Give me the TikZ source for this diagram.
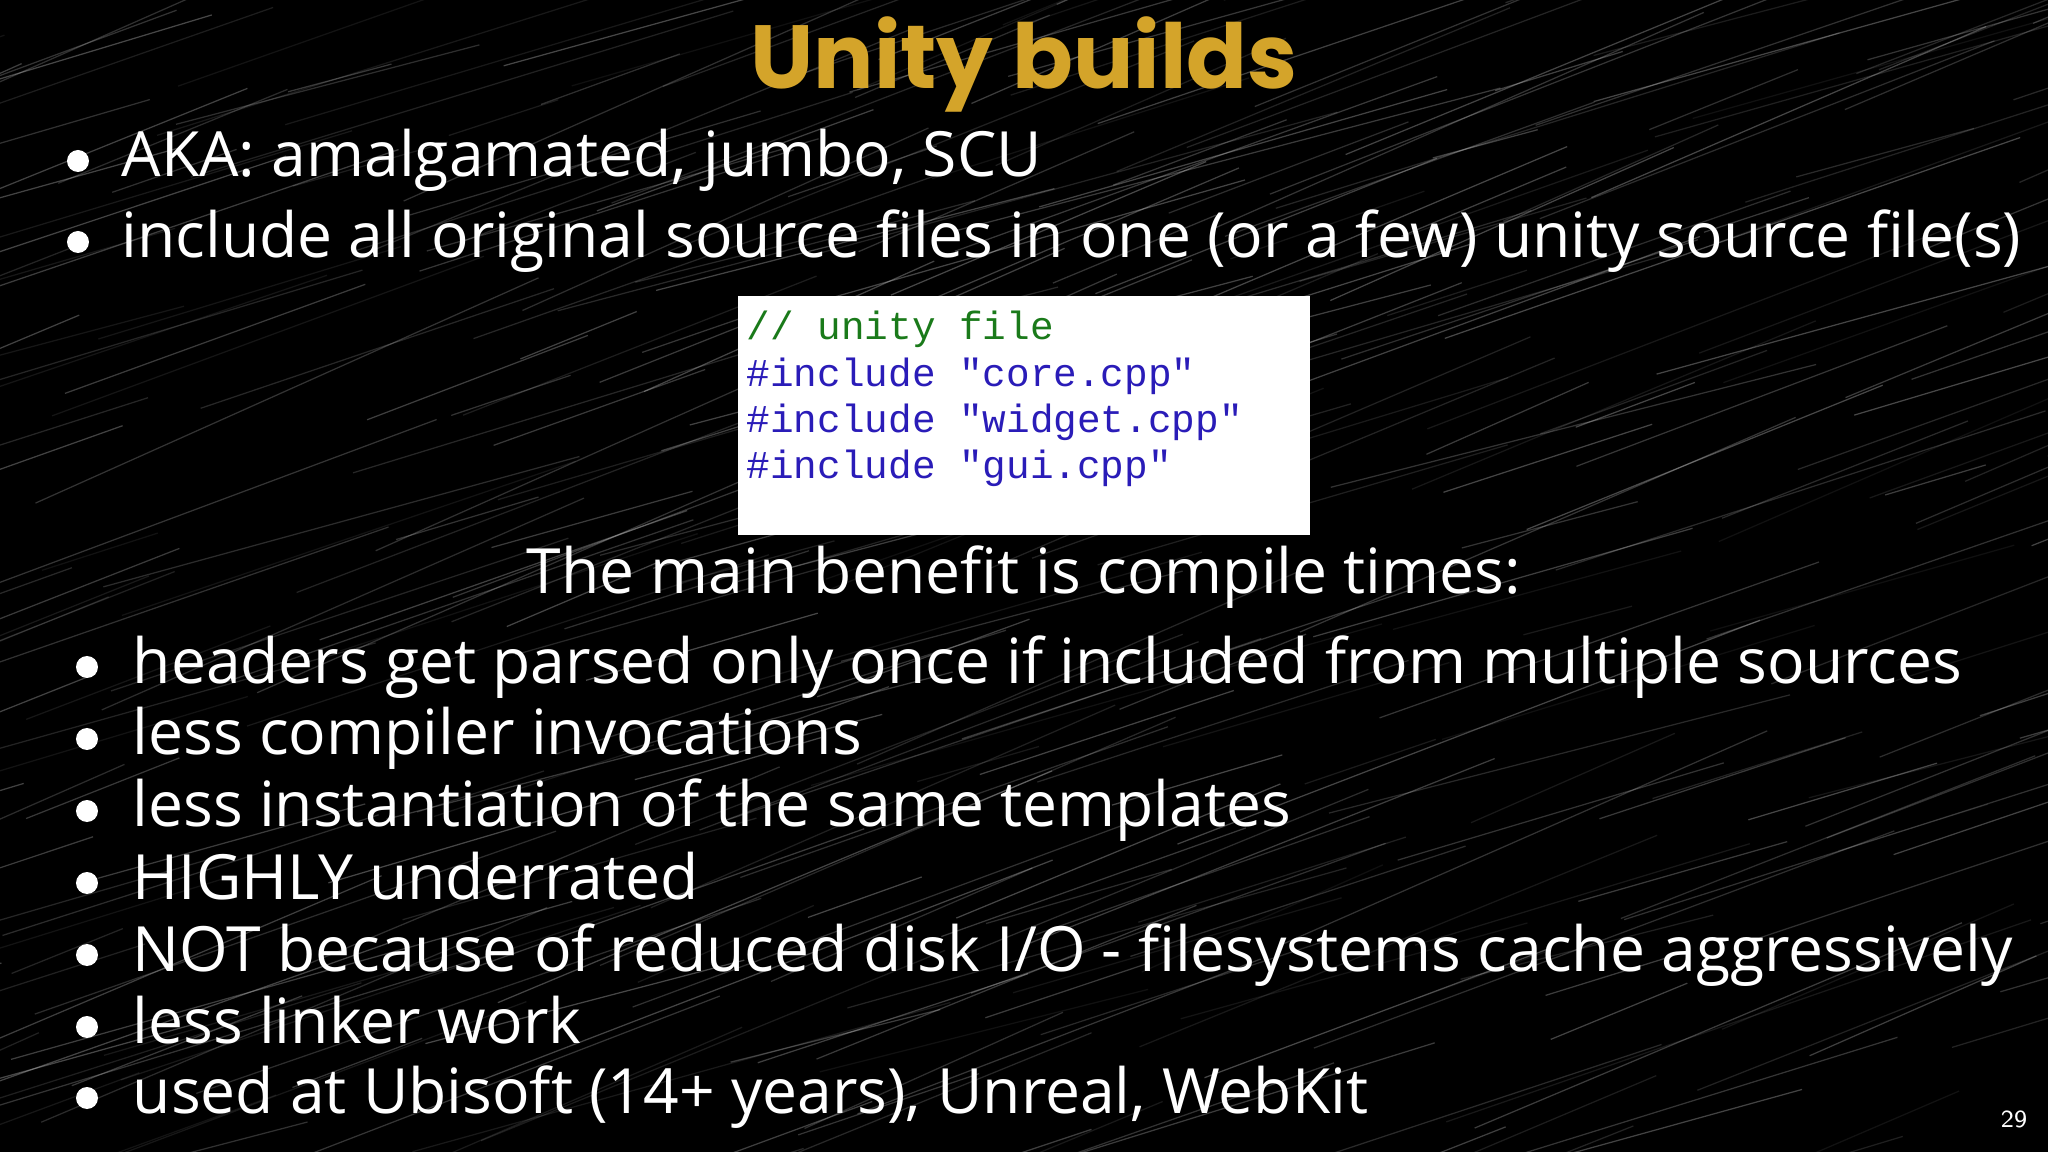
\documentclass[tikz,border=0pt]{standalone}
\usepackage{fontspec}
\setmainfont{Open Sans}
\newfontfamily\titlefont{Poppins}
\setmonofont{Liberation Mono}
\definecolor{gold}{HTML}{D4A42A}
\definecolor{cgreen}{HTML}{1A7A1A}
\definecolor{cblue}{HTML}{2A1CB8}
\begin{document}
\begin{tikzpicture}[x=1cm,y=1cm,
  txt/.style={anchor=west,text=white,font=\fontsize{17.75}{21}\selectfont,inner sep=0pt,text height=0.45cm,text depth=0.13cm},
  dot/.style={fill=white,circle,inner sep=0pt,minimum size=0.22cm},
  code/.style={anchor=west,font=\ttfamily\fontsize{11.2}{13}\selectfont,inner sep=0pt,text height=0.3cm,text depth=0.08cm}]
\fill[black] (0,0) rectangle (20.48,-11.52);
\useasboundingbox (0,0) rectangle (20.48,-11.52);
\pgfmathsetseed{7}
\foreach \i in {1,...,400}{
  \pgfmathsetmacro{\xa}{rnd*24-3}
  \pgfmathsetmacro{\ya}{-rnd*13}
  \pgfmathsetmacro{\len}{1+rnd*5}
  \pgfmathsetmacro{\op}{0.06+rnd*0.22}
  \pgfmathsetmacro{\sl}{0.25+rnd*0.2}
  \draw[white,opacity=\op,line width=0.35pt] (\xa,\ya) -- ++(\len,\sl*\len);
}
\node[text=gold,font=\titlefont\bfseries\fontsize{25.5}{30}\selectfont] (title) at (10.24,-0.64) {Unity builds};
\node[dot] (b1) at (0.78,-1.61) {};
\node[txt] (t1) at (1.21,-1.61) {AKA: amalgamated, jumbo, SCU};
\node[dot] (b2) at (0.78,-2.42) {};
\node[txt] (t2) at (1.21,-2.42) {include all original source files in one (or a few) unity source file(s)};
\fill[white] (7.38,-2.96) rectangle (13.10,-5.35);
\node[code,text=cgreen] (c1) at (7.46,-3.29) {// unity file};
\node[code,text=cblue] (c2) at (7.46,-3.76) {\#include "core.cpp"};
\node[code,text=cblue] (c3) at (7.46,-4.22) {\#include "widget.cpp"};
\node[code,text=cblue] (c4) at (7.46,-4.68) {\#include "gui.cpp"};
\node[txt,anchor=center] (main) at (10.24,-5.77) {The main benefit is compile times:};
\foreach \y/\t [count=\n] in {
 6.67/{headers get parsed only once if included from multiple sources},
 7.39/{less compiler invocations},
 8.11/{less instantiation of the same templates},
 8.83/{HIGHLY underrated},
 9.55/{NOT because of reduced disk I/O - filesystems cache aggressively},
 10.27/{less linker work},
 10.98/{used at Ubisoft (14+ years), Unreal, WebKit}}{
  \node[dot] (d\n) at (0.87,-\y) {};
  \node[txt] (l\n) at (1.32,-\y) {\t};
}
\node[text=white,font=\sffamily\fontsize{7}{8}\selectfont] (pg) at (20.14,-11.19) {29};
\end{tikzpicture}
\end{document}
